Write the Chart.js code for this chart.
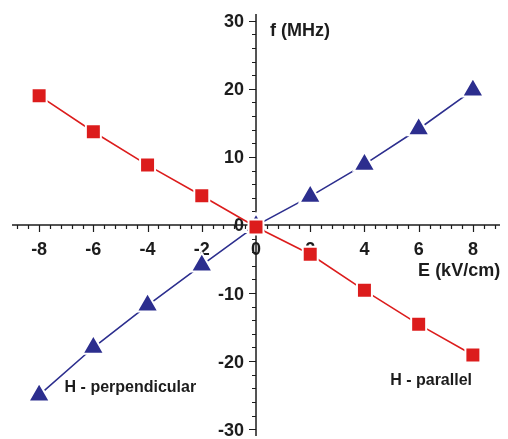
<!DOCTYPE html>
<html>
<head>
<meta charset="utf-8">
<script src="https://cdn.jsdelivr.net/npm/chart.js@4.4.1/dist/chart.umd.min.js"></script>
<style>
  html, body { margin: 0; padding: 0; background: #fff; }
  #wrap { width: 508px; height: 439px; }
</style>
</head>
<body>
<div id="wrap"><canvas id="chart" width="508" height="439"></canvas></div>
<script>
// ── Data ───────────────────────────────────────────────
const fieldE         = [-8, -6, -4, -2, 0, 2, 4, 6, 8];                 // kV/cm
const fParallel      = [19.0, 13.7, 8.8, 4.3, -0.3, -4.3, -9.6, -14.6, -19.1];
const fPerpendicular = [-25.0, -18.0, -11.8, -5.9, -0.1, 4.2, 8.9, 14.1, 19.8];

const xTickLabels = [-8, -6, -4, -2, 0, 2, 4, 6, 8];
const yTickLabels = [-30, -20, -10, 0, 10, 20, 30];
const xMinorStep  = 0.4;
const yMinorStep  = 2;
const xAxisEnds   = [-9, 9];     // drawn length of the axis lines
const yAxisEnds   = [-31, 31];

// text placed in data units (left edge, baseline)
const annotations = [
  { text: "f (MHz)",           x: 0.52,  y: 27.8 },
  { text: "E (kV/cm)",         x: 5.98,  y: -7.5 },
  { text: "H - perpendicular", x: -7.06, y: -24.6, size: 16 },
  { text: "H - parallel",      x: 4.95,  y: -23.5, size: 16 },
];

const RED  = "#dc1c1c";
const BLUE = "#2c2e8e";
const INK  = "#1c1c1c";
const FONT = "'Liberation Sans', Arial, sans-serif";

// ── Crossed axes through the origin ────────────────────
const crossedAxes = {
  id: "crossedAxes",
  beforeDatasetsDraw(chart) {
    const { ctx, scales: { x, y } } = chart;
    const x0 = x.getPixelForValue(0);
    const y0 = y.getPixelForValue(0);
    ctx.save();
    ctx.strokeStyle = INK;
    ctx.lineWidth = 1.5;

    // axis lines
    ctx.beginPath();
    ctx.moveTo(x.getPixelForValue(xAxisEnds[0]), y0);
    ctx.lineTo(x.getPixelForValue(xAxisEnds[1]), y0);
    ctx.moveTo(x0, y.getPixelForValue(yAxisEnds[1]));
    ctx.lineTo(x0, y.getPixelForValue(yAxisEnds[0]));
    ctx.stroke();

    // x ticks (downward)
    ctx.lineWidth = 1.2;
    ctx.beginPath();
    const nx = Math.floor(xAxisEnds[1] / xMinorStep);
    for (let k = -nx; k <= nx; k++) {
      const v = k * xMinorStep;
      const major = Math.abs(v / 2 - Math.round(v / 2)) < 1e-6;
      const px = Math.round(x.getPixelForValue(v)) + 0.5;
      ctx.moveTo(px, y0);
      ctx.lineTo(px, y0 + (major ? 7 : 4));
    }
    // y ticks (leftward)
    const ny = Math.floor(yAxisEnds[1] / yMinorStep);
    for (let k = -ny; k <= ny; k++) {
      const v = k * yMinorStep;
      const major = v % 10 === 0;
      const py = Math.round(y.getPixelForValue(v)) + 0.5;
      ctx.moveTo(x0, py);
      ctx.lineTo(x0 - (major ? 7 : 4), py);
    }
    ctx.stroke();

    // tick labels
    ctx.fillStyle = INK;
    ctx.font = "bold 18px " + FONT;
    ctx.textBaseline = "alphabetic";
    ctx.textAlign = "center";
    xTickLabels.forEach(v => {
      ctx.fillText(String(v), x.getPixelForValue(v), y0 + 30);
    });
    ctx.textAlign = "right";
    yTickLabels.forEach(v => {
      ctx.fillText(String(v), x0 - 12, y.getPixelForValue(v) + 6.5);
    });
    ctx.restore();
  },
  afterDatasetsDraw(chart) {
    const { ctx, scales: { x, y } } = chart;
    ctx.save();
    ctx.fillStyle = INK;
    ctx.textAlign = "left";
    ctx.textBaseline = "alphabetic";
    annotations.forEach(a => {
      ctx.font = "bold " + (a.size || 18) + "px " + FONT;
      ctx.fillText(a.text, x.getPixelForValue(a.x), y.getPixelForValue(a.y));
    });
    ctx.restore();
  },
};

new Chart(document.getElementById("chart"), {
  type: "line",
  data: {
    datasets: [
      {
        label: "H - parallel",
        data: fieldE.map((e, i) => ({ x: e, y: fParallel[i] })),
        borderColor: RED, backgroundColor: RED,
        borderWidth: 1.6,
        pointStyle: "rect", pointRadius: 10.6,
        pointBorderColor: "#ffffff", pointBorderWidth: 2,
        pointBackgroundColor: RED,
      },
      {
        label: "H - perpendicular",
        data: fieldE.map((e, i) => ({ x: e, y: fPerpendicular[i] })),
        borderColor: BLUE, backgroundColor: BLUE,
        borderWidth: 1.6,
        pointStyle: "triangle", pointRadius: 12.5,
        pointBorderColor: "#ffffff", pointBorderWidth: 2,
        pointBackgroundColor: BLUE,
      },
    ],
  },
  options: {
    responsive: false,
    animation: false,
    // padding >= point overflow so the plot area is exactly 15..493 x 15..424
    layout: { padding: 15 },
    plugins: { legend: { display: false }, tooltip: { enabled: false } },
    scales: {
      // limits chosen so 0 sits where the axes cross in the figure
      x: { type: "linear", min: -8.890, max: 8.742, display: false },
      y: { type: "linear", min: -29.24, max: 30.85, display: false },
    },
  },
  plugins: [crossedAxes],
});
</script>
</body>
</html>
